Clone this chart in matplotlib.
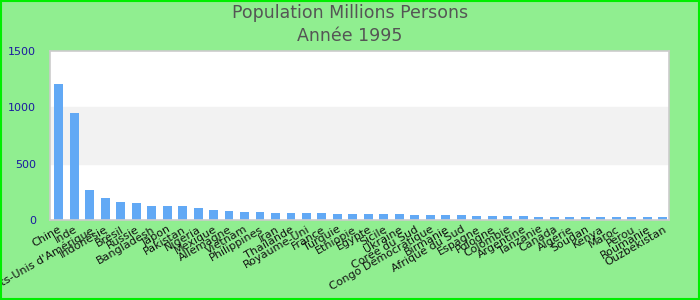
import matplotlib
matplotlib.use("Agg")
import matplotlib.pyplot as plt
from matplotlib.patches import Rectangle

pays = ["Chine", "Inde", "États-Unis d'Amérique", "Indonésie", "Brésil", "Russie",
        "Bangladesh", "Japon", "Pakistan", "Nigeria", "Mexique", "Allemagne",
        "Vietnam", "Philippines", "Iran", "Thaïlande", "Royaume-Uni", "France",
        "Turquie", "Ethiopie", "Egypte", "Sicile", "Ukraine", "Corée du Sud",
        "Congo Démocratique", "Birmanie", "Afrique du Sud", "Espagne", "Pologne",
        "Colombie", "Argentine", "Tanzanie", "Canada", "Algérie", "Soudan",
        "Kenya", "Maroc", "Pérou", "Roumanie", "Ouzbékistan"]
population = [1207, 950, 266, 195, 160, 151, 124, 124, 124, 106, 89, 80,
              71, 71, 62, 62, 62, 62, 53, 53, 53, 56, 52, 45,
              45, 45, 42, 39, 38, 37, 35, 30, 29, 28, 28,
              27, 26, 24, 23, 23]
yticks = [0, 500, 1000, 1500]

fig = plt.figure(figsize=(7, 3), dpi=100, facecolor="#90ee90")
fig.patches.append(Rectangle((0.001, 0.002), 0.997, 0.995, transform=fig.transFigure,
                             fill=False, edgecolor="#00ee00", linewidth=1.5))
ax = fig.add_axes([50 / 700, 80 / 300, 619 / 700, 169 / 300])
ax.set_facecolor("white")

# bande grise entre 500 et 1000
ax.axhspan(500, 1000, color="#f2f2f2", zorder=0)

x = range(len(pays))
ax.bar(x, population, width=0.58, color="#62a9f5", zorder=2)

ax.set_xlim(-0.55, 39.39)
ax.set_ylim(0, 1500)
ax.set_yticks(yticks)
ax.set_yticklabels([str(v) for v in yticks], color="#1a1aa0", fontsize=8)
ax.set_xticks(list(x))
ax.set_xticklabels(pays, rotation=30, ha="right", rotation_mode="anchor",
                   fontsize=8, color="#111111")
ax.tick_params(axis="both", length=0)
ax.tick_params(axis="y", pad=10)
ax.tick_params(axis="x", pad=3)
for s in ax.spines.values():
    s.set_color("#cccccc")
    s.set_linewidth(1.2)

fig.text(0.5, 0.958, "Population Millions Persons", ha="center", va="center",
         fontsize=12.5, color="#555555", family="Liberation Sans Narrow")
fig.text(0.5, 0.88, "Année 1995", ha="center", va="center",
         fontsize=12.5, color="#555555", family="Liberation Sans Narrow")

fig.savefig("out.png", dpi=100, facecolor=fig.get_facecolor())
